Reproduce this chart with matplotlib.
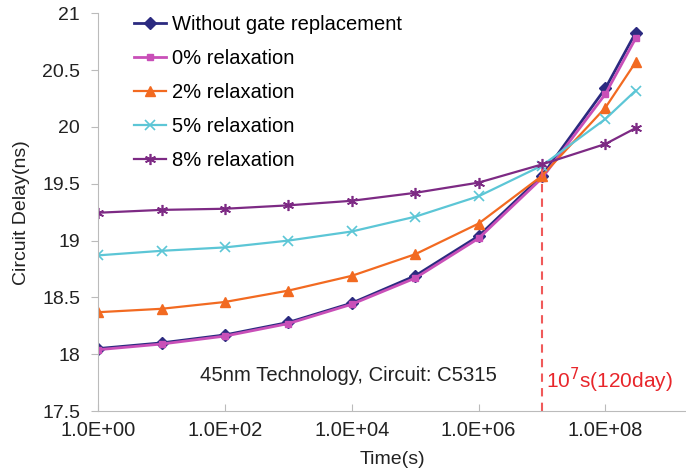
import numpy as np
import matplotlib.pyplot as plt

plt.rcParams['font.family'] = ['Liberation Sans', 'DejaVu Sans']

# time points (s)
t = [1, 1e1, 1e2, 1e3, 1e4, 1e5, 1e6, 1e7, 1e8, 3e8]

no_repl = [18.05, 18.10, 18.17, 18.28, 18.45, 18.69, 19.04, 19.57, 20.34, 20.83]
relax0 = [18.04, 18.09, 18.16, 18.27, 18.44, 18.67, 19.02, 19.55, 20.29, 20.78]
relax2 = [18.37, 18.40, 18.46, 18.56, 18.69, 18.88, 19.15, 19.57, 20.17, 20.57]
relax5 = [18.87, 18.91, 18.94, 19.00, 19.08, 19.21, 19.39, 19.66, 20.07, 20.32]
relax8 = [19.245, 19.27, 19.28, 19.31, 19.35, 19.42, 19.51, 19.67, 19.85, 19.99]

labels = ['Without gate replacement', '0% relaxation', '2% relaxation',
          '5% relaxation', '8% relaxation']
xticks = [1, 1e2, 1e4, 1e6, 1e8]
xticklabels = ['1.0E+00', '1.0E+02', '1.0E+04', '1.0E+06', '1.0E+08']
yticks = [17.5, 18, 18.5, 19, 19.5, 20, 20.5, 21]

fig = plt.figure(figsize=(6.86, 4.72), dpi=100)
ax = fig.add_axes([0.143, 0.129, 0.857, 0.843])

ax.plot(t, no_repl, color='#2B2A80', lw=2, marker='D', ms=6, label=labels[0])
ax.plot(t, relax0, color='#C94FB8', lw=2, marker='s', ms=5, label=labels[1])
ax.plot(t, relax2, color='#F26A21', lw=1.6, marker='^', ms=7, label=labels[2])
ax.plot(t, relax5, color='#5CC6D6', lw=1.6, marker='x', ms=7, mew=1.2, label=labels[3])
ax.plot(t, relax8, color='#7D2A84', lw=1.6, marker=(6, 2, 0), ms=8, mew=1.2, label=labels[4])

ax.plot([1e7, 1e7], [17.5, 19.67], color='#F05A5A', lw=1.5, ls=(0, (4, 3)))
ax.text(1.15e7, 17.77, '10$^7$s(120day)', color='#E8262B', fontsize=15,
        va='center', ha='left')
ax.text(9.0e3, 17.81, '45nm Technology, Circuit: C5315', color='#222222',
        fontsize=14.6, va='center', ha='center')

ax.set_xscale('log')
ax.set_xlim(1, 10**9.27)
ax.set_ylim(17.5, 21)
ax.set_xticks(xticks)
ax.set_xticklabels(xticklabels)
ax.minorticks_off()
ax.set_yticks(yticks)
ax.set_yticklabels([('%g' % v) for v in yticks])
ax.tick_params(axis='y', labelsize=14, colors='#222222', length=5, color='#BBBBBB', pad=8)
ax.tick_params(axis='x', labelsize=14.5, colors='#222222', length=5, color='#BBBBBB',
               direction='in', pad=7)

for s in ['top', 'right']:
    ax.spines[s].set_visible(False)
for s in ['left', 'bottom']:
    ax.spines[s].set_color('#BBBBBB')

ax.set_xlabel('Time(s)', fontsize=14, color='#222222', labelpad=8)
ax.set_ylabel('Circuit Delay(ns)', fontsize=14, color='#222222', labelpad=9)

ax.legend(loc='upper left', bbox_to_anchor=(0.03, 1.04), frameon=False,
          fontsize=14.5, handlelength=1.6, handletextpad=0.3, labelspacing=0.74)

fig.savefig('out.png', dpi=100)
